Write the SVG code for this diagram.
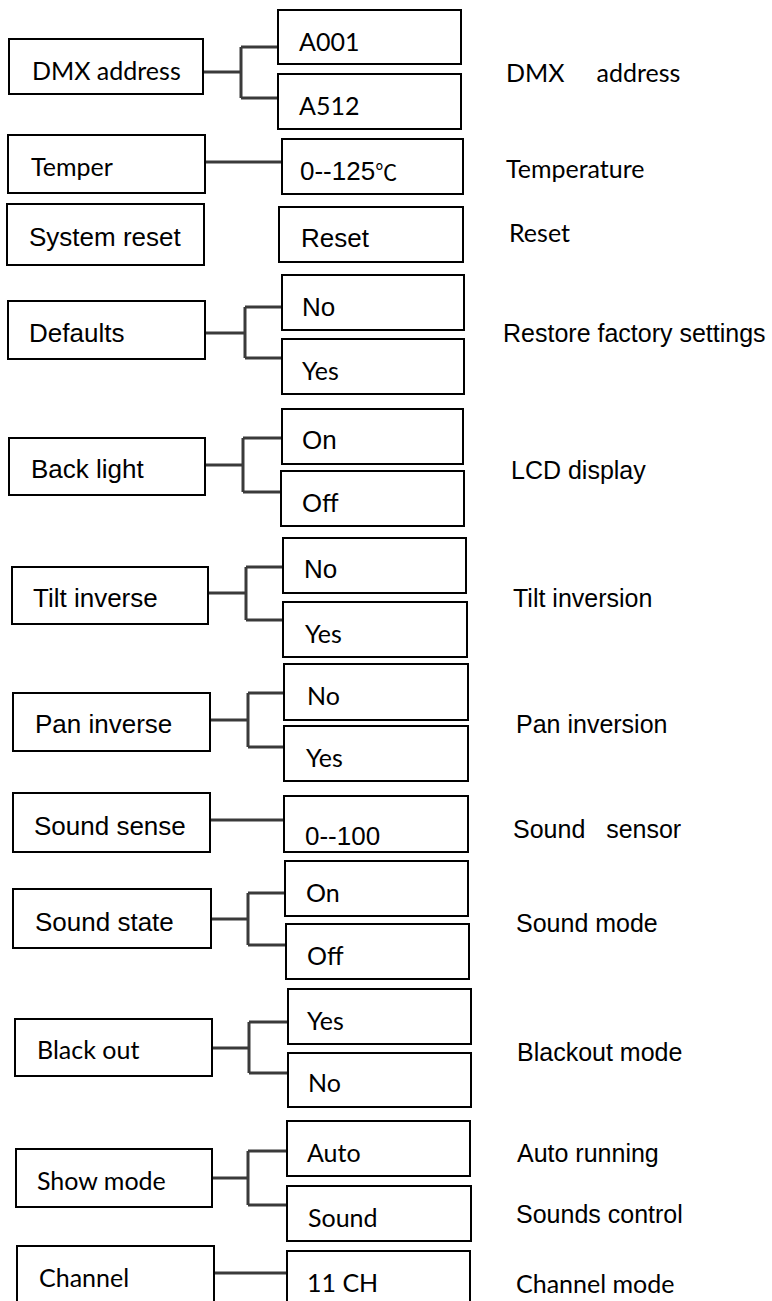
<svg xmlns="http://www.w3.org/2000/svg" width="772" height="1301" viewBox="0 0 772 1301">
<style>
.box{fill:#fff;stroke:#000;stroke-width:2}
.c{fill:none;stroke:#3a3a3a;stroke-width:3}
.ar{font-family:"Liberation Sans",Arial,sans-serif;font-size:26px;fill:#000}
.ds{font-family:"Liberation Sans",Arial,sans-serif;font-size:25px;fill:#000}
.cb{font-family:Lato,"Open Sans",sans-serif;font-size:25px;fill:#000}
.cj{font-family:"Noto Sans CJK SC",sans-serif;font-size:22px}
</style>
<rect width="772" height="1301" fill="#fff"/>
<g id="connectors">
<path class="c" d="M203 72H241M241 47V98M241 47H278M241 98H278"/>
<path class="c" d="M205 162H282"/>
<path class="c" d="M205 333H245M245 307V358M245 307H282M245 358H282"/>
<path class="c" d="M205 465H243M243 438V492M243 438H282M243 492H281"/>
<path class="c" d="M208 593H246M246 567V620M246 567H283M246 620H283"/>
<path class="c" d="M210 720H248M248 693V747M248 693H284M248 747H284"/>
<path class="c" d="M210 820H284"/>
<path class="c" d="M211 919H248M248 893V945M248 893H285M248 945H286"/>
<path class="c" d="M212 1048H249M249 1022V1073M249 1022H288M249 1073H288"/>
<path class="c" d="M212 1178H248M248 1151V1205M248 1151H287M248 1205H287"/>
<path class="c" d="M214 1273H287"/>
</g>
<g id="dmx"><rect class="box" x="9" y="39" width="194" height="55"/><text class="cb" x="32" y="80">DMX address</text></g>
<g id="a001"><rect class="box" x="278" y="10" width="183" height="54"/><text class="cb" x="299" y="51">A001</text></g>
<g id="a512"><rect class="box" x="278" y="74" width="183" height="55"/><text class="cb" x="299" y="115">A512</text></g>
<g id="temper"><rect class="box" x="8" y="135" width="197" height="58"/><text class="cb" x="31" y="176">Temper</text></g>
<g id="temp-range"><rect class="box" x="282" y="139" width="181" height="55"/><text class="ar" x="300" y="180">0--125<tspan class="cj">℃</tspan></text></g>
<g id="sysreset"><rect class="box" x="7" y="204" width="197" height="61"/><text class="ar" x="29" y="246">System reset</text></g>
<g id="reset"><rect class="box" x="279" y="207" width="184" height="55"/><text class="ar" x="301" y="247">Reset</text></g>
<g id="defaults"><rect class="box" x="8" y="301" width="197" height="58"/><text class="ar" x="29" y="342">Defaults</text></g>
<g id="def-no"><rect class="box" x="282" y="275" width="182" height="55"/><text class="ar" x="302" y="316">No</text></g>
<g id="def-yes"><rect class="box" x="282" y="339" width="182" height="55"/><text class="cb" x="302" y="380">Yes</text></g>
<g id="backlight"><rect class="box" x="9" y="438" width="196" height="57"/><text class="ar" x="31" y="478">Back light</text></g>
<g id="bl-on"><rect class="box" x="282" y="409" width="181" height="55"/><text class="ar" x="302" y="449">On</text></g>
<g id="bl-off"><rect class="box" x="281" y="471" width="183" height="55"/><text class="cb" x="302" y="512">Off</text></g>
<g id="tilt"><rect class="box" x="12" y="567" width="196" height="57"/><text class="ar" x="33" y="607">Tilt inverse</text></g>
<g id="tilt-no"><rect class="box" x="283" y="538" width="183" height="55"/><text class="ar" x="304" y="578">No</text></g>
<g id="tilt-yes"><rect class="box" x="283" y="602" width="184" height="55"/><text class="cb" x="305" y="643">Yes</text></g>
<g id="pan"><rect class="box" x="13" y="693" width="197" height="58"/><text class="ar" x="35" y="733">Pan inverse</text></g>
<g id="pan-no"><rect class="box" x="284" y="664" width="184" height="56"/><text class="cb" x="307" y="705">No</text></g>
<g id="pan-yes"><rect class="box" x="284" y="726" width="184" height="55"/><text class="cb" x="306" y="767">Yes</text></g>
<g id="soundsense"><rect class="box" x="13" y="793" width="197" height="59"/><text class="ar" x="34" y="835">Sound sense</text></g>
<g id="ss-range"><rect class="box" x="284" y="796" width="184" height="56"/><text class="ar" x="305" y="845">0--100</text></g>
<g id="soundstate"><rect class="box" x="13" y="889" width="198" height="59"/><text class="ar" x="35" y="931">Sound state</text></g>
<g id="st-on"><rect class="box" x="285" y="861" width="183" height="55"/><text class="cb" x="306" y="902">On</text></g>
<g id="st-off"><rect class="box" x="286" y="924" width="183" height="55"/><text class="cb" x="307" y="965">Off</text></g>
<g id="blackout"><rect class="box" x="15" y="1019" width="197" height="57"/><text class="cb" x="37" y="1059">Black out</text></g>
<g id="bo-yes"><rect class="box" x="288" y="989" width="183" height="55"/><text class="cb" x="307" y="1030">Yes</text></g>
<g id="bo-no"><rect class="box" x="288" y="1053" width="183" height="54"/><text class="cb" x="308" y="1092">No</text></g>
<g id="showmode"><rect class="box" x="16" y="1149" width="196" height="58"/><text class="cb" x="37" y="1190">Show mode</text></g>
<g id="sm-auto"><rect class="box" x="287" y="1121" width="183" height="55"/><text class="cb" x="307" y="1162">Auto</text></g>
<g id="sm-sound"><rect class="box" x="287" y="1186" width="184" height="55"/><text class="cb" x="308" y="1227">Sound</text></g>
<g id="channel"><rect class="box" x="17" y="1246" width="197" height="70"/><text class="cb" x="39" y="1287">Channel</text></g>
<g id="ch-11"><rect class="box" x="287" y="1251" width="183" height="70"/><text class="cb" x="307" y="1292">11 CH</text></g>
<g id="descriptions">
<text class="cb" x="506" y="82" xml:space="preserve">DMX     address</text>
<text class="cb" x="506" y="178">Temperature</text>
<text class="cb" x="509" y="242">Reset</text>
<text class="ds" x="503" y="342">Restore factory settings</text>
<text class="ds" x="511" y="479">LCD display</text>
<text class="ds" x="513" y="607">Tilt inversion</text>
<text class="ds" x="516" y="733">Pan inversion</text>
<text class="ds" x="513" y="838" xml:space="preserve">Sound   sensor</text>
<text class="ds" x="516" y="932">Sound mode</text>
<text class="ds" x="517" y="1061">Blackout mode</text>
<text class="ds" x="517" y="1162">Auto running</text>
<text class="ds" x="516" y="1223">Sounds control</text>
<text class="cb" x="516" y="1293">Channel mode</text>
</g>
</svg>
